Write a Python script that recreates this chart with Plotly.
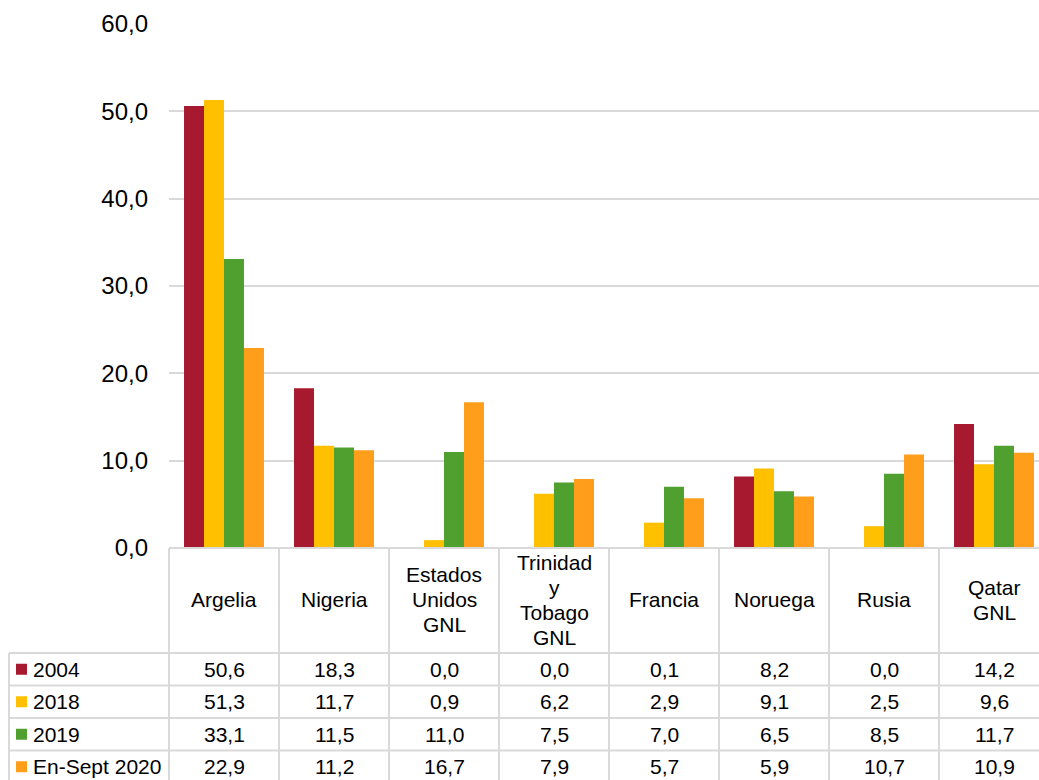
import plotly.graph_objects as go

categories = ["Argelia", "Nigeria", "Estados<br>Unidos<br>GNL", "Trinidad<br>y<br>Tobago<br>GNL",
              "Francia", "Noruega", "Rusia", "Qatar<br>GNL"]
series_names = ["2004", "2018", "2019", "En-Sept 2020"]
v2004 = [50.6, 18.3, 0.0, 0.0, 0.1, 8.2, 0.0, 14.2]
v2018 = [51.3, 11.7, 0.9, 6.2, 2.9, 9.1, 2.5, 9.6]
v2019 = [33.1, 11.5, 11.0, 7.5, 7.0, 6.5, 8.5, 11.7]
v2020 = [22.9, 11.2, 16.7, 7.9, 5.7, 5.9, 10.7, 10.9]
colors = ["#A6192E", "#FFC000", "#50A030", "#FF9E1B"]
ytick_vals = [0, 10, 20, 30, 40, 50, 60]

series = [v2004, v2018, v2019, v2020]
FONT = "Liberation Sans, Arial, sans-serif"
TFS = 21  # table font size

fig = go.Figure()
xs = list(range(len(categories)))
for name, vals, col in zip(series_names, series, colors):
    fig.add_trace(go.Bar(x=xs, y=vals, name=name, marker=dict(color=col, line=dict(width=0))))

# layout geometry (pixels)
L, R, T, B = 169, 1039, 24, 548
W, H = R - L, B - T
xmin, xmax = -0.5, 7.5 - 10 / 110
def px(xp):
    return (xp - L) / W
def py(yp):
    return (B - yp) / H

grid = "#D9D9D9"
header_bottom = 653
row_h = 32.5
row_lines = [header_bottom + i * row_h for i in range(5)]
table_bottom = row_lines[-1]
legend_left = 9
line_step = 25

shapes = []
shapes.append(dict(type="line", xref="paper", yref="paper", x0=0, x1=1, y0=0, y1=0,
                   line=dict(color=grid, width=2)))
for yl in row_lines:
    shapes.append(dict(type="line", xref="paper", yref="paper", x0=px(legend_left), x1=1,
                       y0=py(yl), y1=py(yl), line=dict(color=grid, width=2)))
n = len(categories)
for k in range(n + 1):
    d = (k - 0.5 - xmin) / (xmax - xmin)
    if d > 1:
        continue
    shapes.append(dict(type="line", xref="x domain", yref="paper", x0=d, x1=d,
                       y0=0, y1=py(table_bottom), line=dict(color=grid, width=2)))
shapes.append(dict(type="line", xref="paper", yref="paper", x0=px(legend_left), x1=px(legend_left),
                   y0=py(header_bottom), y1=py(table_bottom), line=dict(color=grid, width=2)))

annotations = []
hc = (B + header_bottom) / 2 - 1
for k, cat in enumerate(categories):
    lines = cat.split("<br>")
    nl = len(lines)
    for i, t in enumerate(lines):
        yc = hc + (i - (nl - 1) / 2) * line_step
        annotations.append(dict(x=k, y=py(yc), xref="x", yref="paper",
                                text=t, showarrow=False, xanchor="center", yanchor="middle",
                                font=dict(family=FONT, size=TFS, color="#000000")))
for r, (name, vals, col) in enumerate(zip(series_names, series, colors)):
    yc = row_lines[r] + row_h / 2
    shapes.append(dict(type="rect", xref="paper", yref="paper",
                       x0=px(16), x1=px(27), y0=py(yc - 5.5), y1=py(yc + 5.5),
                       fillcolor=col, line=dict(width=0)))
    annotations.append(dict(x=px(31), y=py(yc), xref="paper", yref="paper", text=name,
                            showarrow=False, xanchor="left", yanchor="middle",
                            font=dict(family=FONT, size=TFS, color="#000000")))
    for k, v in enumerate(vals):
        annotations.append(dict(x=k, y=py(yc), xref="x", yref="paper",
                                text=f"{v:.1f}".replace(".", ","), showarrow=False,
                                xanchor="center", yanchor="middle",
                                font=dict(family=FONT, size=TFS, color="#000000")))

fig.update_layout(
    width=1039, height=780,
    margin=dict(l=L, r=1039 - R, t=T, b=780 - B, autoexpand=False),
    paper_bgcolor="white", plot_bgcolor="white",
    barmode="group", bargap=0.273, bargroupgap=0,
    showlegend=False,
    separators=",.",
    font=dict(family=FONT, color="#000000"),
    xaxis=dict(range=[xmin, xmax], showticklabels=False, showgrid=False, zeroline=False,
               showline=False, fixedrange=True),
    yaxis=dict(range=[0, 60], tickvals=ytick_vals, tickformat=".1f", showgrid=True,
               gridcolor=grid, gridwidth=2, zeroline=False, showline=False,
               ticklabelstandoff=20, tickfont=dict(family=FONT, size=24, color="#000000")),
    shapes=shapes, annotations=annotations,
)

fig.write_html("out.html")
